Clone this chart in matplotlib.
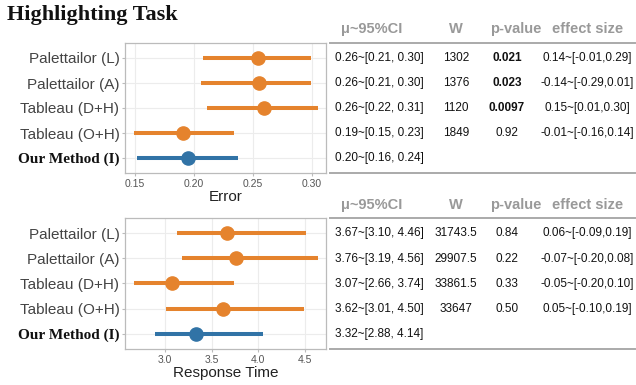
import matplotlib
matplotlib.use("Agg")
import matplotlib.pyplot as plt
from matplotlib.lines import Line2D

W, H = 636, 385

# methods, top to bottom
methods = ["Palettailor (L)", "Palettailor (A)", "Tableau (D+H)", "Tableau (O+H)", "Our Method (I)"]

# values as drawn
err_mean = [0.254, 0.255, 0.259, 0.191, 0.195]
err_lo = [0.208, 0.206, 0.211, 0.149, 0.152]
err_hi = [0.299, 0.299, 0.305, 0.234, 0.237]

rt_mean = [3.667, 3.757, 3.071, 3.617, 3.328]
rt_lo = [3.125, 3.178, 2.668, 3.007, 2.896]
rt_hi = [4.51, 4.635, 3.739, 4.49, 4.046]

# table text
headers = ["μ~95%CI", "W", "p-value", "effect size"]
err_ci = ["0.26~[0.21, 0.30]", "0.26~[0.21, 0.30]", "0.26~[0.22, 0.31]", "0.19~[0.15, 0.23]", "0.20~[0.16, 0.24]"]
err_w = ["1302", "1376", "1120", "1849", ""]
err_p = ["0.021", "0.023", "0.0097", "0.92", ""]
err_es = ["0.14~[-0.01,0.29]", "-0.14~[-0.29,0.01]", "0.15~[0.01,0.30]", "-0.01~[-0.16,0.14]", ""]

rt_ci = ["3.67~[3.10, 4.46]", "3.76~[3.19, 4.56]", "3.07~[2.66, 3.74]", "3.62~[3.01, 4.50]", "3.32~[2.88, 4.14]"]
rt_w = ["31743.5", "29907.5", "33861.5", "33647", ""]
rt_p = ["0.84", "0.22", "0.33", "0.50", ""]
rt_es = ["0.06~[-0.09,0.19]", "-0.07~[-0.20,0.08]", "-0.05~[-0.20,0.10]", "0.05~[-0.10,0.19]", ""]

ORANGE = "#E5832D"
BLUE = "#3173A6"
colors = [ORANGE, ORANGE, ORANGE, ORANGE, BLUE]

SANS = ["Liberation Sans", "DejaVu Sans"]
SERIF = ["Liberation Serif", "DejaVu Serif"]

fig = plt.figure(figsize=(W / 100, H / 100), dpi=100)


def px_axes(left, top, right, bottom):
    return fig.add_axes([left / W, 1 - bottom / H, (right - left) / W, (bottom - top) / H])


def fx(x):
    return x / W


def fy(y):
    return 1 - y / H


def forest(ax, mean, lo, hi, xlim, xticks, xlabel):
    n = len(methods)
    ys = list(range(n - 1, -1, -1))
    for y, m, a, b, c in zip(ys, mean, lo, hi, colors):
        ax.plot([a, b], [y, y], color=c, lw=2.9, solid_capstyle="butt", zorder=3)
        ax.plot([m], [y], "o", color=c, ms=9.5, zorder=4)
    ax.set_xlim(*xlim)
    ax.set_ylim(-0.6, n - 0.4)
    ax.set_xticks(xticks)
    ax.set_xticklabels([f"{t:.2f}" if t < 1 else f"{t:.1f}" for t in xticks],
                       fontsize=7.5, color="#555555", family=SANS)
    ax.set_yticks(ys)
    ax.set_yticklabels(methods)
    for lab in ax.get_yticklabels():
        if lab.get_text() == "Our Method (I)":
            lab.set_family(SERIF)
            lab.set_fontweight("bold")
            lab.set_color("#111111")
            lab.set_fontsize(11)
        else:
            lab.set_family(SANS)
            lab.set_color("#444444")
            lab.set_fontsize(11)
    ax.grid(True, color="#ececec", lw=0.8, zorder=0)
    ax.set_axisbelow(True)
    for s in ax.spines.values():
        s.set_color("#bbbbbb")
        s.set_linewidth(0.9)
    ax.tick_params(axis="both", length=2, color="#bbbbbb", pad=2)
    ax.set_xlabel(xlabel, fontsize=11, family=SANS, color="#222222", labelpad=1)


ax1 = px_axes(125, 43, 326, 173)
forest(ax1, err_mean, err_lo, err_hi, (0.1415, 0.312), [0.15, 0.20, 0.25, 0.30], "Error")

ax2 = px_axes(125, 218, 326, 349)
forest(ax2, rt_mean, rt_lo, rt_hi, (2.572, 4.724), [3.0, 3.5, 4.0, 4.5], "Response Time")

fig.text(fx(7), fy(15), "Highlighting Task", fontsize=16, fontweight="bold",
         family=SERIF, color="#111111", va="center", ha="left")

header_x = [372, 456, 516, 588]


def table(top_line, bottom_line, header_y, row_ys, ci, w, p, es, bold_p):
    for hx, h in zip(header_x, headers):
        fig.text(fx(hx), fy(header_y), h, fontsize=10.5, fontweight="bold",
                 family=SANS, color="#999999", ha="center", va="center")
    for yl in (top_line, bottom_line):
        fig.add_artist(Line2D([fx(330), fx(635)], [fy(yl), fy(yl)],
                              color="#aaaaaa", lw=1.4, transform=fig.transFigure))
    for i, y in enumerate(row_ys):
        fig.text(fx(335), fy(y), ci[i], fontsize=8.5, family=SANS, color="#111111",
                 ha="left", va="center")
        fig.text(fx(456), fy(y), w[i], fontsize=8.5, family=SANS, color="#111111",
                 ha="center", va="center")
        fig.text(fx(507), fy(y), p[i], fontsize=8.5, family=SANS, color="#111111",
                 ha="center", va="center", fontweight="bold" if bold_p[i] else "normal")
        fig.text(fx(587), fy(y), es[i], fontsize=8.5, family=SANS, color="#111111",
                 ha="center", va="center")


table(43, 173, 29, [58, 83, 108, 133, 158], err_ci, err_w, err_p, err_es,
      [True, True, True, False, False])
table(218, 349, 205, [233, 259, 284, 309, 334], rt_ci, rt_w, rt_p, rt_es,
      [False] * 5)

fig.savefig("out.png", dpi=100)
